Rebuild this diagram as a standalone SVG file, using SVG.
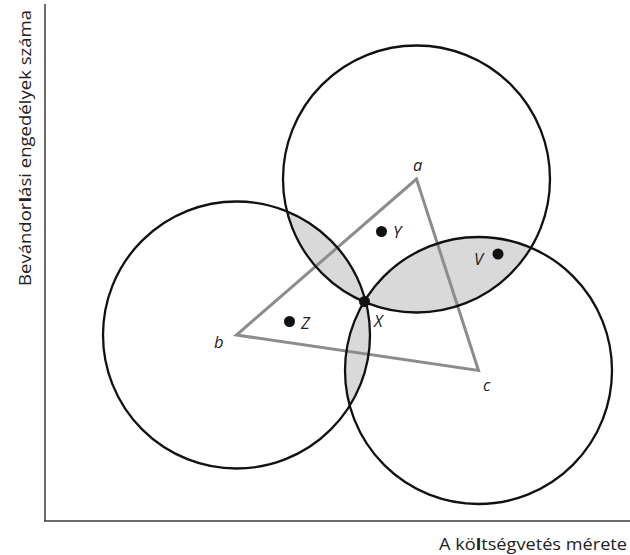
<svg xmlns="http://www.w3.org/2000/svg" width="630" height="555" viewBox="0 0 630 555">
<style>
.axis{stroke:#3a3a3a;stroke-width:1.5;fill:none}
.circ{fill:none;stroke:#111;stroke-width:2.3}
.lens{fill:#d9d9d9}
.tri{fill:none;stroke:#8c8c8c;stroke-width:3;stroke-linejoin:miter}
.dot{fill:#111}
.lbl{font-family:"Open Sans","Noto Sans",sans-serif;font-style:italic;font-size:16.5px;fill:#222}
.ax{font-family:"Open Sans","Noto Sans",sans-serif;font-size:16px;fill:#222}
</style>
<defs>
<clipPath id="ca"><circle cx="416.5" cy="179" r="133.5"/></clipPath>
<clipPath id="cb"><circle cx="236.5" cy="335" r="133.5"/></clipPath>
</defs>
<rect width="630" height="555" fill="#fff"/>
<g id="axes">
<line class="axis" x1="45" y1="4" x2="45" y2="521"/>
<line class="axis" x1="44" y1="521" x2="630" y2="521"/>
<text class="ax" transform="translate(31,286) rotate(-90)" textLength="276" lengthAdjust="spacingAndGlyphs">Bevándor<tspan font-weight="bold">l</tspan>ási engedélyek száma</text>
<text class="ax" x="439" y="550" textLength="188" lengthAdjust="spacingAndGlyphs">A kö<tspan font-weight="bold">l</tspan>tségvetés mérete</text>
</g>
<g id="lenses">
<circle class="lens" cx="236.5" cy="335" r="133.5" clip-path="url(#ca)"/>
<circle class="lens" cx="478.5" cy="370.5" r="133.5" clip-path="url(#ca)"/>
<circle class="lens" cx="478.5" cy="370.5" r="133.5" clip-path="url(#cb)"/>
</g>
<g id="connectors">
<polygon class="tri" points="416.5,179 236.5,335 478.5,370.5"/>
</g>
<g id="circle-a"><circle class="circ" cx="416.5" cy="179" r="133.5"/><text class="lbl" x="413" y="171">a</text></g>
<g id="circle-b"><circle class="circ" cx="236.5" cy="335" r="133.5"/><text class="lbl" x="214" y="348">b</text></g>
<g id="circle-c"><circle class="circ" cx="478.5" cy="370.5" r="133.5"/><text class="lbl" x="483" y="391">c</text></g>
<g id="point-X"><circle class="dot" cx="364.5" cy="301.5" r="5.5"/><text class="lbl" x="374" y="327">X</text></g>
<g id="point-Y"><circle class="dot" cx="381.5" cy="231.5" r="5.5"/><text class="lbl" x="393" y="238">Y</text></g>
<g id="point-Z"><circle class="dot" cx="289.5" cy="321.5" r="5.5"/><text class="lbl" x="301" y="329">Z</text></g>
<g id="point-V"><circle class="dot" cx="498" cy="254" r="5.5"/><text class="lbl" x="474" y="265">V</text></g>
</svg>
